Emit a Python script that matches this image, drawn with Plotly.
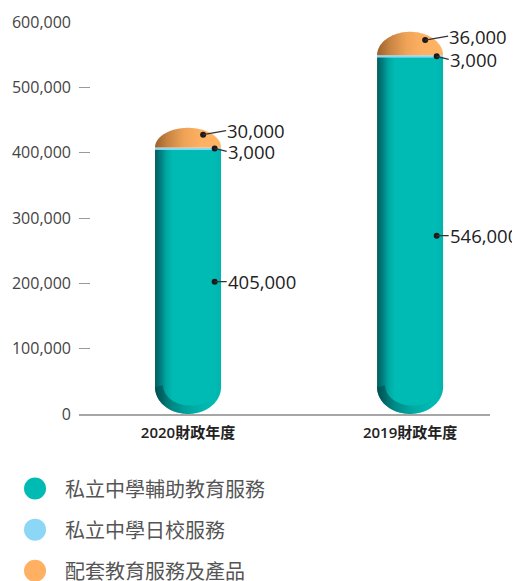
import numpy as np
import plotly.graph_objects as go

# ---------------- data ----------------
categories = ["2020財政年度", "2019財政年度"]
series_names = ["私立中學輔助教育服務", "私立中學日校服務", "配套教育服務及產品"]
support_services = [405000, 546000]      # 私立中學輔助教育服務
day_school_services = [3000, 3000]       # 私立中學日校服務
ancillary_products = [30000, 36000]      # 配套教育服務及產品
y_tick_values = [0, 100000, 200000, 300000, 400000, 500000, 600000]

# ---------------- style ----------------
TEAL = "#00bbb4"
BLUE = "#8dd7f6"
ORANGE = "#ffb062"
series_colors = [TEAL, BLUE, ORANGE]
HW = 0.1486          # half bar width (x units)
RY = 41000           # vertical radius of rounded bottom (y units)
LABEL_FONT = dict(family="Open Sans, Noto Sans CJK TC", size=18.5, color="#222222")

teal_scale = [[0, "#005e5d"], [0.07, "#00777a"], [0.17, "#00a7a1"],
              [0.27, "#00bbb4"], [0.9, "#00bbb4"], [1, "#00b4ad"]]
orange_scale = [[0, "#9c612c"], [0.2, "#c98543"], [0.45, "#f0a458"],
                [0.7, "#ffb062"], [1, "#ffb466"]]
shadow_scale = [[0, "rgba(0,78,78,0.8)"], [0.35, "rgba(0,100,98,0.45)"],
                [0.75, "rgba(0,140,135,0.1)"], [1, "rgba(0,160,155,0)"]]

fig = go.Figure()
dots_x, dots_y = [], []
annotations = []

for i, cat in enumerate(categories):
    cx = i
    v0 = support_services[i]
    v1 = day_school_services[i]
    v2 = ancillary_products[i]

    # teal body with rounded bottom
    t = np.linspace(np.pi, 2 * np.pi, 80)
    xs = [cx - HW] + list(cx + HW * np.cos(t)) + [cx + HW, cx - HW]
    ys = [v0] + list(RY + RY * np.sin(t)) + [v0, v0]
    fig.add_trace(go.Scatter(x=xs, y=ys, fill="toself", mode="none",
                             fillgradient=dict(type="horizontal", colorscale=teal_scale),
                             hoverinfo="skip", showlegend=False))

    # bottom inner shadow (crescent)
    t2 = np.linspace(2 * np.pi, np.pi, 80)
    xo = list(cx + HW * np.cos(t))
    yo = list(RY + RY * np.sin(t))
    xi = list(cx + 0.012 + HW * 0.84 * np.cos(t2))
    yi = list(RY + 3000 + RY * 0.76 * np.sin(t2))
    fig.add_trace(go.Scatter(x=xo + xi + [xo[0]], y=yo + yi + [yo[0]],
                             fill="toself", mode="none",
                             fillgradient=dict(type="horizontal", colorscale=shadow_scale),
                             hoverinfo="skip", showlegend=False))

    # light blue band
    fig.add_trace(go.Scatter(x=[cx - HW, cx + HW, cx + HW, cx - HW, cx - HW],
                             y=[v0, v0, v0 + v1, v0 + v1, v0],
                             fill="toself", mode="none", fillcolor=BLUE,
                             hoverinfo="skip", showlegend=False))

    # orange dome
    base = v0 + v1
    t3 = np.linspace(0, np.pi, 80)
    xd = list(cx + HW * np.cos(t3)) + [cx + HW]
    yd = list(base + v2 * np.sin(t3)) + [base]
    fig.add_trace(go.Scatter(x=xd, y=yd, fill="toself", mode="none",
                             fillgradient=dict(type="horizontal", colorscale=orange_scale),
                             hoverinfo="skip", showlegend=False))

    # label anchors (dot position, pixel offset of label)
    items = [
        (cx + 0.12, v0 / 2, v0, 12, 0),
        (cx + 0.12, v0 + v1 / 2, v1, 12, 3),
        (cx + 0.068, base + v2 * 0.65, v2, 23, -4),
    ]
    for (dx, dy, val, ax, ay) in items:
        dots_x.append(dx)
        dots_y.append(dy)
        annotations.append(dict(x=dx, y=dy, xref="x", yref="y",
                                text=f"{val:,}", showarrow=True, arrowhead=0,
                                arrowwidth=1.3, arrowcolor="#333333",
                                ax=ax, ay=ay, xanchor="left", yanchor="middle",
                                font=LABEL_FONT, borderpad=0))

fig.add_trace(go.Scatter(x=dots_x, y=dots_y, mode="markers",
                         marker=dict(size=6, color="#1a1a1a"),
                         hoverinfo="skip", showlegend=False))

# ---------------- manual legend ----------------
shapes = []
legend_y = [-0.190, -0.295, -0.400]
for name, col, ly in zip(series_names, series_colors, legend_y):
    shapes.append(dict(type="circle", xref="paper", yref="paper",
                       xsizemode="pixel", ysizemode="pixel",
                       xanchor=-0.107, yanchor=ly,
                       x0=-11, x1=11, y0=-11, y1=11,
                       fillcolor=col, line=dict(width=0)))
    annotations.append(dict(x=-0.040, y=ly, xref="paper", yref="paper",
                            text=name, showarrow=False, xanchor="left",
                            yanchor="middle",
                            font=dict(family="Noto Sans CJK TC", size=20,
                                      color="#555555")))

# page body has an 8px margin, so the figure is 8px smaller and margins shifted
fig.update_layout(
    width=512, height=573,
    margin=dict(l=71, r=30, t=14, b=167, autoexpand=False),
    paper_bgcolor="white", plot_bgcolor="white",
    showlegend=False,
    shapes=shapes,
    annotations=annotations,
    xaxis=dict(range=[-0.491, 1.360], tickvals=list(range(len(categories))),
               ticktext=categories, showgrid=False, zeroline=False,
               showline=True, linecolor="#a6a6a6", linewidth=2, ticks="",
               tickfont=dict(family="Open Sans, Noto Sans CJK TC", size=15,
                             color="#222222", weight=600),
               ticklabelstandoff=4, fixedrange=True, automargin=False),
    yaxis=dict(range=[0, 600000], tickvals=y_tick_values, tickformat=",",
               showgrid=False, zeroline=False, showline=False,
               ticks="inside", ticklen=11, tickcolor="#999999", tickwidth=1.3,
               tickfont=dict(family="Open Sans, Noto Sans CJK TC", size=16,
                             color="#444444"),
               ticklabelstandoff=7, fixedrange=True, automargin=False),
)

fig.write_html("out.html")
